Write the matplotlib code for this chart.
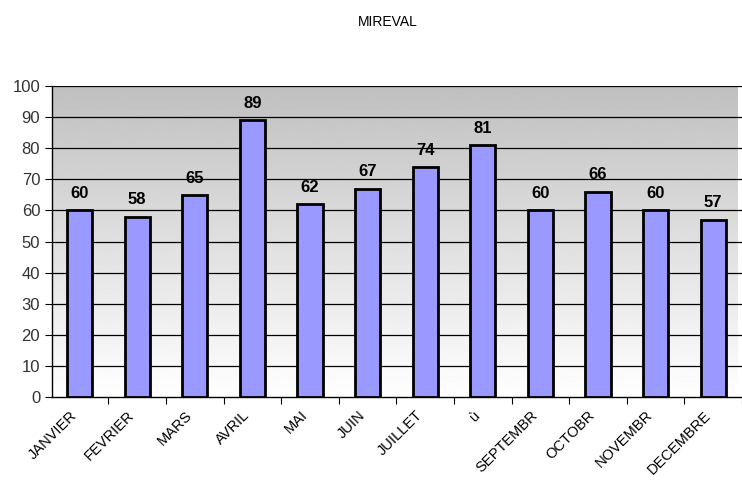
import matplotlib
matplotlib.use("Agg")
import matplotlib.pyplot as plt
from matplotlib.transforms import ScaledTranslation
import numpy as np

plt.rcParams['font.family'] = ['Liberation Sans', 'DejaVu Sans']

# monthly values
months = ["JANVIER", "FEVRIER", "MARS", "AVRIL", "MAI", "JUIN", "JUILLET",
          "ù", "SEPTEMBR", "OCTOBR", "NOVEMBR", "DECEMBRE"]
values = [60, 58, 65, 89, 62, 67, 74, 81, 60, 66, 60, 57]
y_ticks = list(range(0, 101, 10))

fig = plt.figure(figsize=(7.42, 4.86), dpi=100)
ax = fig.add_axes([0.070, 0.183, 0.93, 0.640])

x = np.arange(len(months))
x0, x1 = -0.48, len(months) - 0.58
ax.set_xlim(x0, x1)
ax.set_ylim(0, 100)

# grey at the top fading to white at the bottom
grad = np.linspace(0.75, 1.0, 256).reshape(-1, 1)
ax.imshow(grad, cmap='gray', vmin=0, vmax=1, aspect='auto',
          extent=[x0, x1, 0, 100], origin='upper', zorder=0)

for t in y_ticks[1:]:
    ax.axhline(t, color='black', lw=0.9, zorder=1)

ax.bar(x, values, width=0.44, color='#9999ff', edgecolor='black', linewidth=2, zorder=3)

for xi, v in zip(x, values):
    ax.text(xi, v + 3, str(v), ha='center', va='bottom', fontsize=12, fontweight='bold', zorder=4)

ax.set_yticks(y_ticks)
ax.set_yticklabels([str(t) for t in y_ticks], fontsize=12, color='#333333')
ax.set_xticks(x + 0.5, minor=False)
ax.set_xticklabels([])
ax.set_xticks(x, minor=True)
ax.set_xticklabels(months, minor=True, rotation=45, ha='right', rotation_mode='anchor', fontsize=10.5)
ax.tick_params(axis='x', which='minor', length=0, pad=8)
ax.tick_params(axis='x', which='major', length=5, direction='out')
ax.tick_params(axis='y', length=5, direction='out')

shift = ScaledTranslation(-0.1, 0, fig.dpi_scale_trans)
for lbl in ax.get_xticklabels(minor=True):
    lbl.set_transform(lbl.get_transform() + shift)

for side in ['top', 'right']:
    ax.spines[side].set_visible(False)
ax.spines['left'].set_linewidth(1.0)
ax.spines['bottom'].set_linewidth(1.0)

fig.text(0.523, 0.955, "MIREVAL", ha='center', va='center', fontsize=10)

plt.savefig("out.png", dpi=100)
